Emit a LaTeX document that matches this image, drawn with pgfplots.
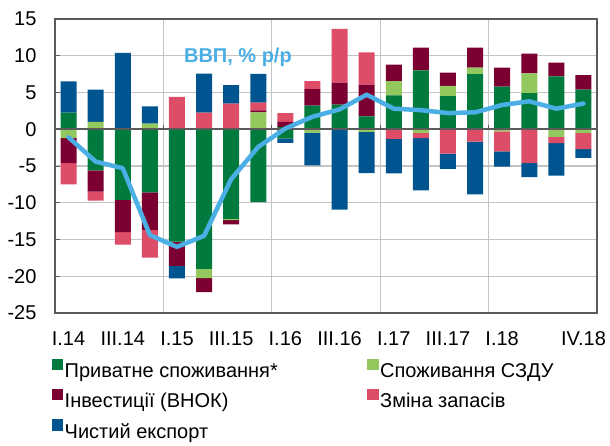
\documentclass[border=0pt]{standalone}
\usepackage{pgfplots}
\pgfplotsset{compat=1.18}
\usepackage{pgfplotstable}
\usepackage{fontspec}
\setmainfont{Liberation Sans}
\definecolor{cG}{HTML}{007A3D}
\definecolor{cL}{HTML}{92C85E}
\definecolor{cM}{HTML}{7B0031}
\definecolor{cP}{HTML}{DE4D67}
\definecolor{cB}{HTML}{00548F}
\definecolor{cLine}{HTML}{4BAEE4}
\definecolor{axisgray}{HTML}{5A5A5A}
\definecolor{gridgray}{HTML}{C4C4C4}

\pgfplotstableread{
x G L M P B
0 2.26 0 0 0 4.25
1 0 1.0 0 0 4.4
2 0 0 0 0 10.4
3 0 0.77 0 0 2.35
4 0 0 0 4.4 0
5 0 0 0 2.26 5.3
6 0 0 0 3.5 2.5
7 0 2.3 0.27 1.05 3.9
8 0.3 0 0.7 1.2 0
9 3.2 0 2.26 1.1 0
10 3.35 0 3.0 7.3 0
11 1.76 0 4.3 4.4 0
12 4.6 1.95 2.26 0 0
13 8.0 0 3.1 0 0
14 4.5 1.4 1.8 0 0
15 7.5 0.9 2.7 0 0
16 5.8 0 2.6 0 0
17 4.9 2.7 2.7 0 0
18 7.2 0 1.85 0 0
19 5.4 0 1.95 0 0
}\pos

\pgfplotstableread{
x G L M P B
0 0 -1.2 -3.4 -2.9 0
1 -5.6 0 -2.9 -1.2 0
2 -9.6 0 -4.4 -1.7 0
3 -8.6 0 -5.1 -3.75 0
4 -15.3 0 -3.3 0 -1.7
5 -19.0 -1.27 -1.9 0 0
6 -12.2 -0.15 -0.6 0 0
7 -9.9 0 0 0 0
8 -1.27 0 0 0 -0.6
9 0 -0.45 0 0 -4.45
10 0 0 0 0 -10.95
11 0 -0.36 0 0 -5.6
12 0 0 0 -1.3 -4.7
13 0 -0.5 0 -0.7 -7.1
14 0 0 0 -3.3 -2.1
15 0 0 0 -1.7 -7.15
16 0 -0.3 0 -2.7 -2.1
17 0 0 0 -4.6 -1.9
18 0 -1.05 0 -0.85 -4.4
19 0 -0.5 0 -2.2 -1.2
}\neg

\pgfplotstableread{
x y
0 -1.1
1 -4.4
2 -5.3
3 -14.4
4 -16.0
5 -14.5
6 -6.8
7 -2.4
8 0.1
9 1.7
10 2.7
11 4.7
12 2.8
13 2.6
14 2.2
15 2.3
16 3.3
17 3.8
18 2.8
19 3.5
}\gdp

\pgfplotsset{
  common/.style={
    at={(55pt,132pt)}, anchor=south west,
    scale only axis, width=542pt, height=294pt,
    xmin=-0.5, xmax=19.5, ymin=-25, ymax=15,
  },
}

\begin{document}
\begin{tikzpicture}
\useasboundingbox (0,0) rectangle (610pt,445pt);
% grid lines between years (drawn first, behind everything)
\begin{axis}[common, hide axis]
\addplot[gridgray, line width=1.2pt] coordinates {(3.5,-25) (3.5,15)};
\addplot[gridgray, line width=1.2pt] coordinates {(7.5,-25) (7.5,15)};
\addplot[gridgray, line width=1.2pt] coordinates {(11.5,-25) (11.5,15)};
\addplot[gridgray, line width=1.2pt] coordinates {(15.5,-25) (15.5,15)};
\end{axis}

\begin{axis}[
  common,
  ybar stacked, bar width=16pt,
  xtick={0,2,4,6,8,10,12,14,16,19},
  xticklabels={I.14,III.14,I.15,III.15,I.16,III.16,I.17,III.17,I.18,IV.18},
  ytick={-25,-20,-15,-10,-5,0,5,10,15},
  ytick pos=left,
  ymajorgrids,
  grid style={gridgray, line width=1.2pt},
  axis line style={draw=axisgray, line width=1.6pt},
  xtick style={draw=none},
  ytick style={draw=axisgray, line width=1pt},
  major tick length=5pt,
  tick align=inside,
  ticklabel style={font=\fontsize{20}{22}\selectfont},
  /pgf/number format/assume math mode=true,
  yticklabel style={xshift=-15pt},
  xticklabel style={yshift=-15pt},
  legend image code/.code={\fill[#1] (0pt,1pt) rectangle (11.5pt,12.5pt);},
  legend style={
    at={(rel axis cs:-0.012,-0.148)}, anchor=north west,
    draw=none, fill=none,
    font=\fontsize{20}{22}\selectfont,
    nodes={inner sep=1.5pt},
    row sep=8.5pt,
    legend cell align=left,
  },
  legend columns=2,
]
\addplot[fill=cG, draw=none] table[x=x,y=G] {\pos};
\addlegendentry{\makebox[301pt][l]{Приватне споживання*}}
\addplot[fill=cL, draw=none] table[x=x,y=L] {\pos};
\addlegendentry{Споживання СЗДУ}
\addplot[fill=cM, draw=none] table[x=x,y=M] {\pos};
\addlegendentry{\makebox[301pt][l]{Інвестиції (ВНОК)}}
\addplot[fill=cP, draw=none] table[x=x,y=P] {\pos};
\addlegendentry{Зміна запасів}
\addplot[fill=cB, draw=none] table[x=x,y=B] {\pos};
\addlegendentry{\makebox[301pt][l]{Чистий експорт}}
\end{axis}

\begin{axis}[
  common, hide axis,
  ybar stacked, bar width=16pt,
]
\addplot[fill=cG, draw=none] table[x=x,y=G] {\neg};
\addplot[fill=cL, draw=none] table[x=x,y=L] {\neg};
\addplot[fill=cM, draw=none] table[x=x,y=M] {\neg};
\addplot[fill=cP, draw=none] table[x=x,y=P] {\neg};
\addplot[fill=cB, draw=none] table[x=x,y=B] {\neg};
\end{axis}

\begin{axis}[
  common, hide axis, clip=false,
]
\addplot[axisgray, line width=1.6pt] coordinates {(-0.5,0) (19.5,0)};
\addplot[axisgray, line width=1pt] coordinates {(3.5,0) (3.5,0.6)};
\addplot[axisgray, line width=1pt] coordinates {(7.5,0) (7.5,0.6)};
\addplot[axisgray, line width=1pt] coordinates {(11.5,0) (11.5,0.6)};
\addplot[axisgray, line width=1pt] coordinates {(15.5,0) (15.5,0.6)};
\addplot[cLine, line width=4.5pt, line join=round, line cap=round] table[x=x,y=y] {\gdp};
\node[font=\bfseries\fontsize{20}{24}\selectfont, text=cLine, anchor=base] at (axis cs:6.25,9.1) {ВВП, \% р/р};
\end{axis}
\end{tikzpicture}
\end{document}
